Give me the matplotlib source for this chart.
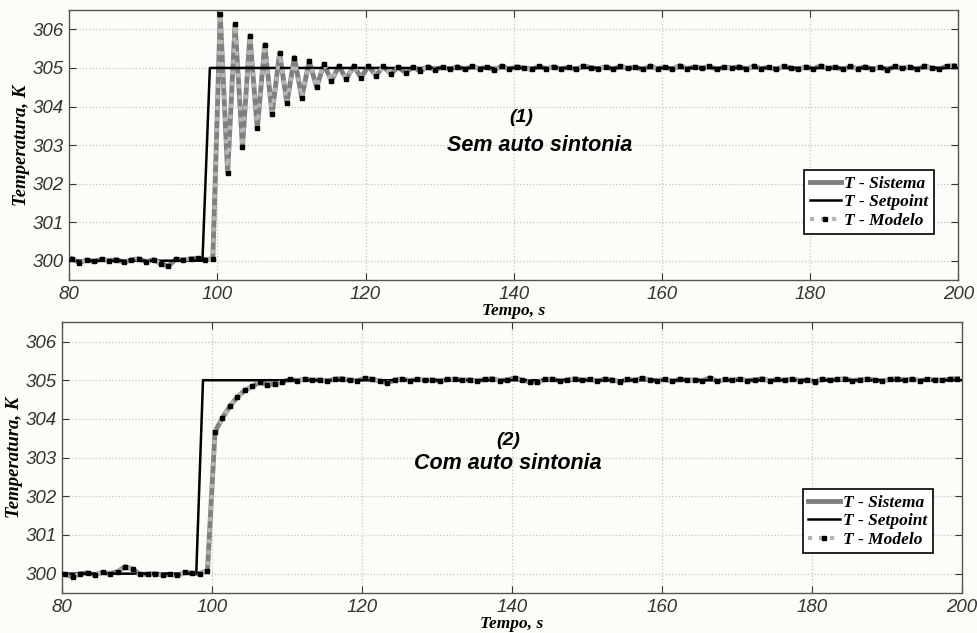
import numpy as np
import matplotlib.pyplot as plt

# setpoint (step)
sp1_t = [80, 98, 99, 200]
sp1_v = [300, 300, 305, 305]
sp2_t = [80, 97.9, 98.8, 200]
sp2_v = [300, 300, 305, 305]

# model / system samples, 1 s apart starting at 80.4 s
modelo1 = [300.05, 299.95, 300.02, 299.98, 300.04, 300.00, 300.03, 299.96, 300.02, 300.05,
           299.97, 300.03, 299.92, 299.86, 300.04, 300.02, 300.05, 300.06, 300.03,
           300.05,
           306.39, 302.27, 306.13, 302.96, 305.83, 303.43, 305.60, 303.81, 305.38, 304.10,
           305.27, 304.23, 305.18, 304.50, 305.10, 304.66, 305.05, 304.71, 305.05, 304.75,
           305.05, 304.80, 305.04, 304.85, 305.02, 304.88, 305.02, 304.92, 305.03, 304.95,
           305.02, 304.97, 305.03, 304.96, 305.04, 304.98, 305.02, 304.95, 305.05, 304.97,
           305.03, 305.00, 304.96, 305.04, 304.98, 305.03, 304.97, 305.02, 304.96, 305.05,
           305.01, 304.98, 305.03, 304.97, 305.04, 304.99, 305.02, 304.96, 305.05, 304.98,
           305.02, 304.97, 305.06, 304.98, 305.03, 304.99, 305.04, 304.96, 305.02, 305.00,
           305.03, 304.97, 305.05, 304.98, 305.02, 304.96, 305.04, 305.00, 304.97, 305.03,
           304.98, 305.05, 304.99, 305.02, 304.96, 305.04, 304.98, 305.03, 304.97, 305.02,
           304.95, 305.04, 304.99, 305.03, 304.96, 305.05, 305.00, 304.98, 305.04, 305.06]
sistema1 = modelo1

modelo2 = [299.98, 299.92, 300.00, 300.02, 299.97, 300.03, 300.00, 300.05, 300.18, 300.12,
           299.98, 299.99, 300.00, 299.97, 299.98, 299.96, 300.03, 300.01, 300.00,
           300.08,
           303.67, 304.03, 304.33, 304.57, 304.74, 304.84, 304.95, 304.88, 304.90, 304.96,
           305.02, 304.99, 305.03, 305.00, 305.01, 304.98, 305.03, 305.04, 305.00, 304.99,
           305.05, 305.02, 304.98, 304.93, 305.01, 305.03, 304.99, 305.02, 305.00, 305.01,
           304.98, 305.02, 305.03, 305.00, 305.01, 304.98, 305.02, 305.04, 304.99, 305.01,
           305.06, 305.00, 304.96, 304.95, 305.02, 305.03, 304.98, 305.01, 305.04, 305.00,
           305.02, 304.98, 305.03, 305.01, 304.96, 305.02, 305.00, 305.05, 305.01, 304.99,
           305.02, 304.97, 305.03, 305.00, 305.01, 304.99, 305.06, 304.97, 305.02, 305.00,
           305.03, 304.99, 305.01, 305.04, 304.98, 305.02, 305.00, 305.03, 304.99, 305.01,
           304.96, 305.03, 305.00, 305.02, 305.04, 304.99, 305.01, 305.03, 305.00, 304.98,
           305.02, 305.04, 305.00, 305.03, 304.99, 305.02, 305.01, 305.00, 305.03, 305.04]
sistema2 = modelo2

xticks = [80, 100, 120, 140, 160, 180, 200]
yticks = [300, 301, 302, 303, 304, 305, 306]
titles = [("(1)", "Sem auto sintonia"), ("(2)", "Com auto sintonia")]

bg = '#fcfcf8'
fig = plt.figure(figsize=(9.78, 6.33), dpi=100, facecolor=bg)
ax1 = fig.add_axes([0.0706, 0.5577, 0.9094, 0.4263])
ax2 = fig.add_axes([0.0634, 0.0632, 0.9202, 0.4278])

serif = {'family': 'Liberation Serif', 'weight': 'bold', 'style': 'italic'}

panels = [
    (ax1, sp1_t, sp1_v, sistema1, modelo1, titles[0], (141, 303.72), (143.5, 303.0), (0.982, 0.137)),
    (ax2, sp2_t, sp2_v, sistema2, modelo2, titles[1], (139.5, 303.45), (139.5, 302.85), (0.977, 0.114)),
]

for ax, spt, spv, sis, mod, (num, name), p_num, p_name, leg_anchor in panels:
    t = 80.4 + np.arange(len(mod))
    ax.set_facecolor(bg)
    ax.plot(t, sis, color='#808080', lw=3.5, label='T - Sistema', zorder=2)
    ax.plot(spt, spv, color='black', lw=1.8, label='T - Setpoint', zorder=3)
    ax.plot(t, mod, color='#b4b4b4', lw=3, ls=':', marker='s', ms=3.2,
            mfc='black', mec='black', label='T - Modelo', zorder=4)
    ax.set_xlim(80, 200)
    ax.set_ylim(299.5, 306.5)
    ax.set_xticks(xticks)
    ax.set_yticks(yticks)
    ax.grid(True, ls=':', color='#c4c4c4', lw=0.9)
    ax.tick_params(direction='in', top=True, right=True, length=5,
                   labelsize=13.5, colors='#333333', pad=4)
    for lab in ax.get_xticklabels() + ax.get_yticklabels():
        lab.set_fontfamily('Liberation Sans')
        lab.set_fontstyle('italic')
    for s in ax.spines.values():
        s.set_color('#555555')
        s.set_linewidth(1.0)
    ax.set_xlabel('Tempo, s', fontdict=serif, fontsize=12.5, labelpad=0)
    ax.set_ylabel('Temperatura, K', fontdict=serif, fontsize=13.5, labelpad=2)
    ax.text(p_num[0], p_num[1], num, ha='center', va='center', fontsize=14,
            family='Liberation Sans', weight='bold', style='italic')
    ax.text(p_name[0], p_name[1], name, ha='center', va='center', fontsize=15.5,
            family='Liberation Sans', weight='bold', style='italic')
    leg = ax.legend(loc='lower right', bbox_to_anchor=leg_anchor, fancybox=False,
                    edgecolor='black', framealpha=1, handlelength=1.8, handletextpad=0.2,
                    borderpad=0.3, labelspacing=0.15,
                    prop={'family': 'Liberation Serif', 'weight': 'bold',
                          'style': 'italic', 'size': 12.5})
    leg.get_frame().set_linewidth(1.2)
    leg.get_frame().set_facecolor('white')

fig.savefig('out.png', dpi=100, facecolor=bg)
